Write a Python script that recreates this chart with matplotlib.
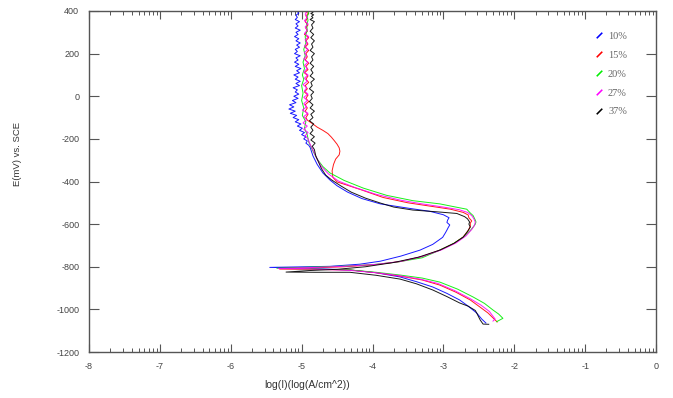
import numpy as np
import matplotlib
matplotlib.use("Agg")
import matplotlib.pyplot as plt
from matplotlib.lines import Line2D
from matplotlib.ticker import FixedLocator, NullFormatter

# ---------------- data ----------------
labels = ["10%", "15%", "20%", "27%", "37%"]
colors = ["#0000ff", "#ff0000", "#00ee00", "#ff00ff", "#000000"]

# 10 %
blue_logi = [-2.40, -2.46, -2.53, -2.65, -2.77, -2.95, -3.15, -3.38, -3.61, -3.95, -4.32, -4.70, -5.05, -5.45,
             -5.10, -4.60, -4.18, -3.89, -3.60, -3.33, -3.15, -3.01, -2.97, -2.95, -2.93, -2.91, -2.95, -2.94,
             -2.92, -3.00, -3.19, -3.50, -3.89, -4.15, -4.35, -4.50, -4.60, -4.70, -4.78, -4.84, -4.88,
             -4.90, -4.94, -4.92, -4.97, -4.94, -5.00, -4.96, -5.03, -4.99, -5.06, -5.01, -5.09, -5.04, -5.12,
             -5.07, -5.16, -5.09, -5.18, -5.11, -5.17, -5.08, -5.13, -5.05, -5.11, -5.04, -5.09, -5.06, -5.12,
             -5.03, -5.08, -5.02, -5.09, -5.05, -5.11, -5.03, -5.07, -5.01, -5.09, -5.04, -5.10, -5.05, -5.08,
             -5.02, -5.10, -5.06, -5.09, -5.03, -5.07, -5.02, -5.08, -5.04, -5.10, -5.05, -5.08, -5.02, -5.09,
             -5.05, -5.08, -5.03, -5.09, -5.06, -5.08, -5.04, -5.07]
blue_e = [-1064, -1045, -1017, -985, -956, -925, -895, -870, -848, -828, -815, -810, -806, -803,
          -801, -798, -788, -774, -750, -722, -695, -662, -640, -628, -615, -604, -592, -581,
          -570, -556, -540, -525, -505, -480, -450, -420, -393, -360, -320, -280, -240,
          -230, -220, -210, -200, -190, -180, -170, -160, -150, -140, -130, -120, -110, -100,
          -90, -80, -70, -60, -50, -40, -30, -20, -10, 0, 10, 20, 30, 40,
          50, 60, 70, 80, 90, 100, 110, 120, 130, 140, 150, 160, 170, 180,
          190, 200, 210, 220, 230, 240, 250, 260, 270, 280, 290, 300, 310, 320,
          330, 340, 350, 360, 370, 380, 390, 400]

# 15 %
red_logi = [-2.24, -2.30, -2.37, -2.48, -2.62, -2.82, -3.05, -3.30, -3.61, -3.95, -4.32, -4.90, -5.31,
            -4.90, -4.40, -3.95, -3.60, -3.30, -3.05, -2.85, -2.72, -2.65, -2.62, -2.62, -2.60, -2.64,
            -2.65, -2.72, -2.90, -3.20, -3.50, -3.85, -4.15, -4.35, -4.50, -4.56, -4.57, -4.55, -4.52,
            -4.47, -4.46, -4.47, -4.50, -4.54, -4.58, -4.63, -4.70, -4.78, -4.85, -4.92,
            -4.94, -4.91, -4.95, -4.92, -4.95, -4.90, -4.94, -4.91, -4.96, -4.92, -4.95, -4.90,
            -4.94, -4.91, -4.96, -4.91, -4.94, -4.90, -4.95, -4.92, -4.94, -4.90, -4.95, -4.91,
            -4.94, -4.90, -4.96, -4.92, -4.94, -4.91, -4.95, -4.92, -4.94, -4.90, -4.94, -4.92]
red_e = [-1059, -1040, -1017, -990, -956, -920, -886, -862, -844, -828, -815, -812, -811,
         -806, -800, -790, -775, -752, -722, -690, -660, -630, -610, -595, -585, -570,
         -557, -545, -530, -515, -500, -475, -440, -418, -402, -380, -350, -320, -295,
         -275, -258, -242, -225, -208, -192, -175, -160, -145, -128, -112,
         -100, -85, -70, -55, -40, -25, -10, 5, 20, 35, 50, 65,
         80, 95, 110, 125, 140, 155, 170, 185, 200, 215, 230, 245,
         260, 275, 290, 305, 320, 335, 350, 365, 378, 388, 395, 400]

# 20 %
green_logi = [-2.25, -2.16, -2.22, -2.30, -2.42, -2.58, -2.80, -3.05, -3.30, -3.61, -3.95, -4.32, -4.90, -5.35,
              -4.90, -4.40, -4.00, -3.65, -3.30, -3.05, -2.85, -2.72, -2.62, -2.58, -2.55, -2.54, -2.55,
              -2.58, -2.62, -2.67, -2.90, -3.05, -3.43, -3.80, -4.13, -4.40, -4.60, -4.70, -4.78, -4.84,
              -4.90, -4.92, -4.96, -4.94, -4.99, -4.97, -5.00, -4.98, -5.00, -4.97, -4.99, -4.96, -4.98,
              -4.95, -4.97, -4.94, -4.95, -4.92, -4.93, -4.91, -4.92, -4.90, -4.91]
green_e = [-1058, -1042, -1022, -1003, -972, -942, -905, -872, -853, -839, -826, -815, -810, -807,
           -802, -797, -790, -778, -758, -722, -690, -661, -630, -614, -600, -590, -581,
           -560, -548, -530, -515, -505, -490, -465, -431, -395, -360, -330, -295, -257,
           -215, -182, -150, -120, -90, -55, -20, 15, 50, 80, 100, 130, 160,
           190, 220, 250, 280, 310, 335, 355, 375, 390, 400]

# 27 %
magenta_logi = [-2.30, -2.27, -2.31, -2.35, -2.47, -2.62, -2.84, -3.08, -3.33, -3.62, -3.95, -4.32, -4.90, -5.33,
                -4.90, -4.40, -3.95, -3.60, -3.30, -3.02, -2.82, -2.68, -2.60, -2.56, -2.55, -2.57, -2.60,
                -2.66, -2.78, -3.00, -3.30, -3.60, -3.95, -4.25, -4.48, -4.62, -4.72, -4.78, -4.83, -4.88,
                -4.91, -4.95, -4.91, -4.97, -4.92, -4.98, -4.93, -4.97, -4.91, -4.99, -4.93, -4.97, -4.92,
                -4.97, -4.91, -4.96, -4.93, -4.98, -4.92, -4.96, -4.91, -4.97, -4.92, -4.96, -4.91, -4.97,
                -4.93, -4.96, -4.91, -4.96, -4.92, -4.95, -4.90, -4.96, -4.92, -4.95, -4.91, -4.96, -4.92,
                -4.95, -4.92]
magenta_e = [-1055, -1045, -1028, -1010, -980, -950, -912, -878, -858, -842, -828, -817, -810, -808,
             -804, -798, -789, -775, -752, -720, -688, -655, -625, -605, -590, -575, -560,
             -545, -532, -520, -505, -488, -460, -428, -398, -365, -330, -295, -260, -225,
             -200, -185, -170, -155, -140, -125, -110, -95, -80, -65, -50, -35, -20,
             -5, 10, 25, 40, 55, 70, 85, 100, 115, 130, 145, 160, 175,
             190, 205, 220, 235, 250, 265, 280, 295, 310, 325, 340, 355, 370,
             385, 400]

# 37 %
black_logi = [-2.36, -2.44, -2.48, -2.53, -2.55, -2.65, -2.77, -2.95, -3.15, -3.38, -3.61, -3.95, -4.32, -4.80, -5.22,
              -4.90, -4.50, -4.10, -3.70, -3.35, -3.05, -2.85, -2.72, -2.66, -2.62, -2.64, -2.63, -2.66,
              -2.70, -2.81, -3.10, -3.43, -3.70, -3.89, -4.10, -4.30, -4.45, -4.58, -4.66, -4.72, -4.76,
              -4.80, -4.82,
              -4.85, -4.81, -4.87, -4.82, -4.88, -4.84, -4.87, -4.83, -4.89, -4.84, -4.87, -4.82, -4.88,
              -4.84, -4.89, -4.85, -4.87, -4.83, -4.89, -4.85, -4.87, -4.82, -4.88, -4.84, -4.87, -4.83,
              -4.88, -4.84, -4.86, -4.82, -4.88, -4.84, -4.86, -4.82, -4.87, -4.83, -4.88, -4.84, -4.86,
              -4.82, -4.88, -4.84, -4.86, -4.83, -4.87, -4.84, -4.86, -4.85]
black_e = [-1070, -1069, -1050, -1017, -1005, -985, -970, -940, -909, -880, -858, -840, -826, -826, -825,
           -818, -812, -800, -780, -755, -722, -690, -661, -635, -614, -600, -590, -575,
           -565, -550, -542, -534, -520, -501, -478, -450, -420, -392, -370, -340, -310,
           -280, -250,
           -235, -220, -205, -190, -175, -160, -145, -130, -115, -100, -85, -70, -55,
           -40, -25, -10, 5, 20, 35, 50, 65, 80, 95, 110, 125, 140,
           155, 170, 185, 200, 215, 230, 245, 260, 275, 290, 305, 320, 335,
           350, 360, 368, 375, 382, 388, 393, 397, 400]

x_ticks = [-8, -7, -6, -5, -4, -3, -2, -1, 0]
y_ticks = [-1200, -1000, -800, -600, -400, -200, 0, 200, 400]

series = [(blue_logi, blue_e), (red_logi, red_e), (green_logi, green_e),
          (magenta_logi, magenta_e), (black_logi, black_e)]

# ---------------- figure ----------------
plt.rcParams['font.family'] = ['Liberation Sans', 'DejaVu Sans']
fig = plt.figure(figsize=(6.73, 3.98), dpi=100)
ax = fig.add_axes([89 / 673, 1 - 352 / 398, (656 - 89) / 673, (352 - 11) / 398])

for (xs, ys), c in zip(series, colors):
    ax.plot(xs, ys, color=c, lw=0.7, alpha=0.9)

ax.set_xlim(-8, 0)
ax.set_ylim(-1200, 400)

ax.set_xticks(x_ticks)
ax.set_yticks(y_ticks)
ax.set_xticklabels([str(v) for v in x_ticks])
ax.set_yticklabels([str(v) for v in y_ticks])
minor = [n + np.log10(k) for n in range(-8, 0) for k in range(2, 10)]
ax.xaxis.set_minor_locator(FixedLocator(minor))
ax.xaxis.set_minor_formatter(NullFormatter())

spine_c = "#555555"
for s in ax.spines.values():
    s.set_color(spine_c)
    s.set_linewidth(1.0)

ax.tick_params(axis='x', which='major', direction='in', length=6, width=0.8,
               colors=spine_c, labelcolor='#444444', labelsize=6.5, top=True, pad=7)
ax.tick_params(axis='x', which='minor', direction='in', length=3, width=0.7,
               colors=spine_c, top=True)
ax.tick_params(axis='y', which='major', direction='in', length=7, width=0.8,
               colors=spine_c, labelcolor='#444444', labelsize=6.5, right=True, pad=7)

fig.text(307 / 673, 1 - 385 / 398, "log(I)(log(A/cm^2))", ha='center', va='center',
         fontsize=7.5, color='#333333')
fig.text(18 / 673, 1 - 154 / 398, "E(mV) vs. SCE", ha='center', va='center',
         rotation=90, fontsize=6.8, color='#333333')

handles = [Line2D([], [], color=c, marker=(2, 2, -45), markersize=5.5, markeredgewidth=0.8,
                  linestyle='none') for c in colors]
leg = ax.legend(handles, labels, loc='upper left', bbox_to_anchor=(0.875, 0.967),
                frameon=False, handlelength=0.8, handletextpad=0.5, labelspacing=0.92,
                prop={'family': 'Liberation Serif', 'size': 7.5})
for t in leg.get_texts():
    t.set_color('#666666')

fig.savefig("out.png", dpi=100)
